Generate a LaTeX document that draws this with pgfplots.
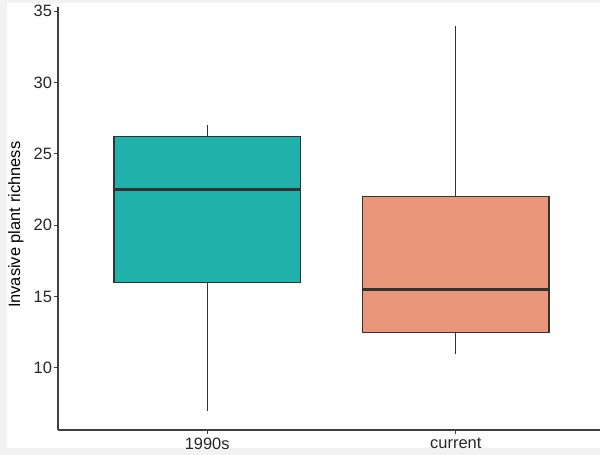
\documentclass[border=0pt]{standalone}
\usepackage{fontspec}
\setmainfont{Liberation Sans}
\usepackage{pgfplots}
\pgfplotsset{compat=1.18}
\definecolor{tealbox}{RGB}{32,178,170}
\definecolor{salmonbox}{RGB}{233,150,122}
\definecolor{edge}{RGB}{51,51,51}
\begin{document}
\begin{tikzpicture}
\useasboundingbox (-58bp,-25bp) rectangle (542bp,430bp);
\fill[black!5] (-58bp,-25bp) rectangle (542bp,430bp);
\fill[white] (-51bp,-18bp) rectangle (542bp,427bp);
\begin{axis}[
  at={(0,0)}, anchor=south west,
  scale only axis,
  width=542bp, height=423bp,
  xmin=0.4, xmax=2.58,
  ymin=5.65, ymax=35.3,
  axis x line=bottom, axis y line=left,
  axis line style={-, line width=1.1bp, black!75},
  xtick={1,2}, xticklabels={1990s,current},
  ytick={10,15,20,25,30,35},
  tick align=outside,
  major tick length=4bp,
  tick style={line width=1bp, black!75},
  /pgf/number format/assume math mode=true,
  yticklabel style={font=\fontsize{16.5}{18}\selectfont, text=black!85, xshift=1.5bp},
  xticklabel style={font=\fontsize{16.5}{18}\selectfont, text=black!85},
  ylabel={Invasive plant richness},
  ylabel style={at={(axis description cs:-0.0775,0.485)}, anchor=center, font=\fontsize{16.5}{18}\selectfont, rotate=0},
  clip=false,
]
% 1990s: whiskers 7 / 27, quartiles 16 / 26.2, median 22.5
\addplot[edge, line width=1.3bp] coordinates {(1,7) (1,16)};
\addplot[edge, line width=1.3bp] coordinates {(1,26.2) (1,27)};
\addplot[draw=edge, fill=tealbox, line width=1.3bp] coordinates {(0.625,16) (1.375,16) (1.375,26.2) (0.625,26.2)} -- cycle;
\addplot[edge, line width=2.6bp] coordinates {(0.625,22.5) (1.375,22.5)};
% current: whiskers 11 / 34, quartiles 12.5 / 22, median 15.5
\addplot[edge, line width=1.3bp] coordinates {(2,11) (2,12.5)};
\addplot[edge, line width=1.3bp] coordinates {(2,22) (2,34)};
\addplot[draw=edge, fill=salmonbox, line width=1.3bp] coordinates {(1.625,12.5) (2.375,12.5) (2.375,22) (1.625,22)} -- cycle;
\addplot[edge, line width=2.6bp] coordinates {(1.625,15.5) (2.375,15.5)};
\end{axis}
\end{tikzpicture}
\end{document}
